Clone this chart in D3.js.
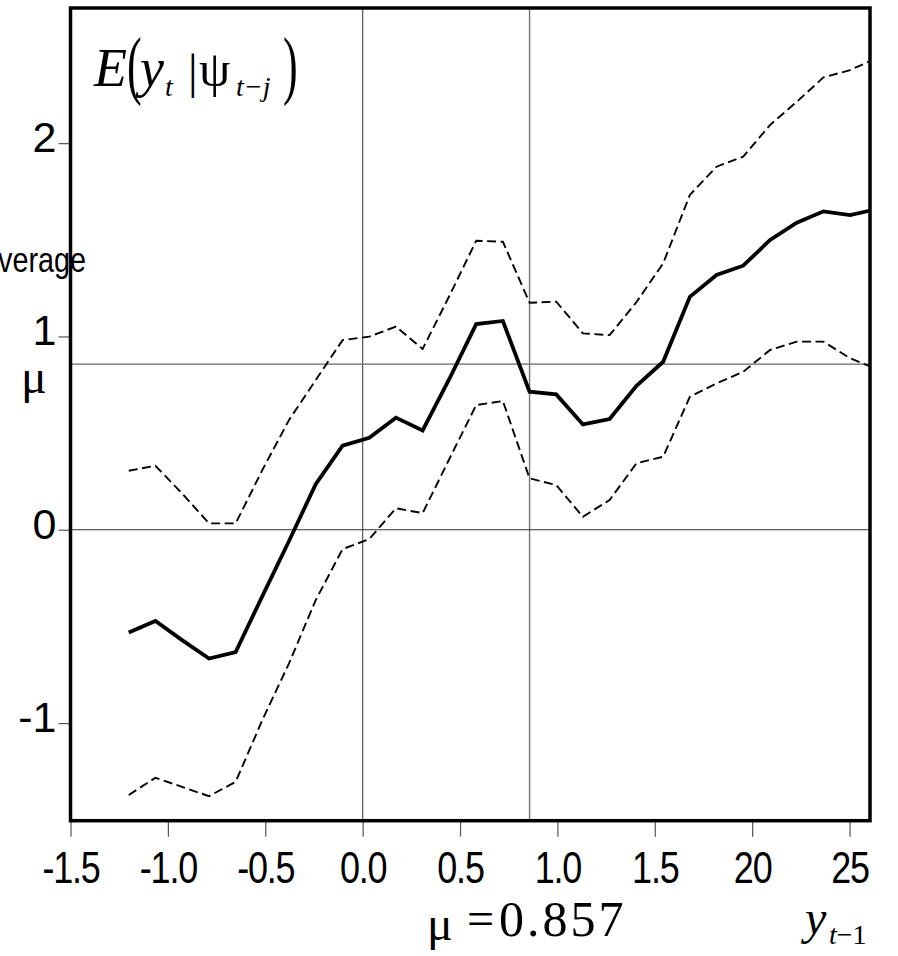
<!DOCTYPE html>
<html>
<head>
<meta charset="utf-8">
<script src="https://cdn.jsdelivr.net/npm/d3@7"></script>
<style>
  html, body { margin: 0; padding: 0; background: #fff; }
  svg { display: block; }
</style>
</head>
<body>
<svg id="chart" width="898" height="956"></svg>
<script>
// ---------------- data ----------------
const xVals = [-1.201, -1.064, -0.927, -0.789, -0.652, -0.515, -0.378, -0.241, -0.103, 0.034,
               0.171, 0.308, 0.445, 0.583, 0.720, 0.857, 0.994, 1.131, 1.268, 1.406,
               1.543, 1.680, 1.817, 1.954, 2.092, 2.229, 2.366, 2.503, 2.640];
const meanVals = [-0.532, -0.472, -0.571, -0.666, -0.633, -0.343, -0.058, 0.236, 0.435, 0.476,
                  0.580, 0.514, 0.780, 1.064, 1.080, 0.714, 0.700, 0.545, 0.573, 0.745,
                  0.869, 1.205, 1.318, 1.366, 1.499, 1.588, 1.647, 1.628, 1.659];
const upperVals = [0.305, 0.331, 0.188, 0.033, 0.033, 0.309, 0.568, 0.774, 0.981, 0.999,
                   1.051, 0.935, 1.209, 1.495, 1.490, 1.174, 1.180, 1.016, 1.007, 1.178,
                   1.378, 1.732, 1.878, 1.930, 2.094, 2.214, 2.340, 2.378, 2.440];
const lowerVals = [-1.372, -1.283, -1.330, -1.378, -1.304, -0.984, -0.691, -0.364, -0.100, -0.048,
                   0.111, 0.086, 0.366, 0.645, 0.666, 0.266, 0.231, 0.067, 0.154, 0.344,
                   0.378, 0.688, 0.757, 0.817, 0.930, 0.973, 0.973, 0.887, 0.831];
const mu = 0.857;
const xTicks = [-1.5, -1.0, -0.5, 0.0, 0.5, 1.0, 1.5, 2.0, 2.5];
const xTickLabels = ["-1.5", "-1.0", "-0.5", "0.0", "0.5", "1.0", "1.5", "20", "25"];
const yTicks = [-1, 0, 1, 2];
const yTickLabels = ["-1", "0", "1", "2"];

// ---------------- layout ----------------
const L = 70.5, R = 870, T = 8, B = 820.7;
const sans = "'Liberation Sans', Arial, Helvetica, sans-serif";
const serif = "'Liberation Serif', 'Times New Roman', Times, serif";

const svg = d3.select("#chart");
const x = d3.scaleLinear().domain([-1.5, 2.605]).range([L, R]);
const y = d3.scaleLinear().domain([-1.505, 2.699]).range([B, T]);

svg.append("defs").append("clipPath").attr("id", "plotclip")
  .append("rect").attr("x", L).attr("y", T).attr("width", R - L).attr("height", B - T);

// reference lines
const refs = svg.append("g");
refs.append("line").attr("x1", x(0)).attr("x2", x(0)).attr("y1", T).attr("y2", B)
  .attr("stroke", "#555").attr("stroke-width", 1.2);
refs.append("line").attr("x1", x(mu)).attr("x2", x(mu)).attr("y1", T).attr("y2", B)
  .attr("stroke", "#777").attr("stroke-width", 1.4);
refs.append("line").attr("x1", L).attr("x2", R).attr("y1", y(0)).attr("y2", y(0))
  .attr("stroke", "#333").attr("stroke-width", 1.2);
refs.append("line").attr("x1", L).attr("x2", R).attr("y1", y(mu)).attr("y2", y(mu))
  .attr("stroke", "#666").attr("stroke-width", 1.3);

// series
const idx = d3.range(xVals.length);
const line = vals => d3.line().x(i => x(xVals[i])).y(i => y(vals[i]))(idx);
const g = svg.append("g").attr("clip-path", "url(#plotclip)");
g.append("path").attr("d", line(upperVals)).attr("fill", "none")
  .attr("stroke", "#000").attr("stroke-width", 1.9).attr("stroke-dasharray", "9,4.5");
g.append("path").attr("d", line(lowerVals)).attr("fill", "none")
  .attr("stroke", "#000").attr("stroke-width", 1.9).attr("stroke-dasharray", "9,4.5");
g.append("path").attr("d", line(meanVals)).attr("fill", "none")
  .attr("stroke", "#000").attr("stroke-width", 3.8).attr("stroke-linejoin", "miter");

// axes
const xAxis = svg.append("g").attr("transform", `translate(0,${B})`)
  .call(d3.axisBottom(x).tickValues(xTicks).tickSize(16)
    .tickFormat((d, i) => xTickLabels[i]));
xAxis.select(".domain").remove();
xAxis.selectAll(".tick line").attr("stroke", "#555").attr("stroke-width", 1.2);
xAxis.selectAll(".tick text")
  .attr("y", 0).attr("dy", 0)
  .attr("transform", "translate(0,62) scale(0.8,1)")
  .attr("font-family", sans).attr("font-size", 45).attr("letter-spacing", -1.5)
  .attr("fill", "#000");

const yAxis = svg.append("g").attr("transform", `translate(${L},0)`)
  .call(d3.axisLeft(y).tickValues(yTicks).tickSize(12)
    .tickFormat((d, i) => yTickLabels[i]));
yAxis.select(".domain").remove();
yAxis.selectAll(".tick line").attr("stroke", "#555").attr("stroke-width", 1.2);
yAxis.selectAll(".tick text")
  .attr("x", -14).attr("dy", 0).attr("y", 8.5)
  .attr("font-family", sans).attr("font-size", 43).attr("fill", "#000");

// frame
svg.append("rect").attr("x", L).attr("y", T).attr("width", R - L).attr("height", B - T)
  .attr("fill", "none").attr("stroke", "#000").attr("stroke-width", 3.5);

// ---------------- texts ----------------
// cut-off "Average" label
svg.append("text").attr("transform", "translate(86,272) scale(0.8,1)")
  .attr("text-anchor", "end").attr("font-family", sans).attr("font-size", 36)
  .text("Average");

// left mu
svg.append("text").attr("x", 21).attr("y", 393).attr("font-family", serif)
  .attr("font-size", 48).text("μ");

// title  E(y_t | ψ_{t-j})
const t = svg.append("g").attr("font-family", serif).attr("fill", "#000");
t.append("text").attr("x", 94).attr("y", 86).attr("font-style", "italic")
  .attr("font-size", 54).text("E");
t.append("text").attr("transform", "translate(127,90) scale(0.58,1)")
  .attr("font-size", 76).text("(");
t.append("text").attr("x", 140).attr("y", 86).attr("font-style", "italic")
  .attr("font-size", 54).text("y");
t.append("text").attr("x", 165).attr("y", 96).attr("font-style", "italic")
  .attr("font-size", 28).text("t");
t.append("text").attr("x", 188).attr("y", 88).attr("font-size", 48).text("|");
t.append("text").attr("x", 199).attr("y", 86).attr("font-size", 50).text("ψ");
t.append("text").attr("x", 236).attr("y", 96).attr("font-style", "italic")
  .attr("font-size", 28).text("t−j");
t.append("text").attr("transform", "translate(283,90) scale(0.58,1)")
  .attr("font-size", 76).text(")");

// bottom  μ = 0.857
const b = svg.append("g").attr("font-family", serif).attr("fill", "#000");
b.append("text").attr("x", 427).attr("y", 940).attr("font-size", 48).text("μ");
b.append("text").attr("x", 467).attr("y", 935).attr("font-size", 48).text("=");
b.append("text").attr("x", 499).attr("y", 936).attr("font-size", 50)
  .attr("letter-spacing", 3).text("0.857");

// y_{t-1}
b.append("text").attr("x", 805).attr("y", 934).attr("font-style", "italic")
  .attr("font-size", 48).text("y");
const sub = b.append("text").attr("x", 829).attr("y", 944).attr("font-size", 28);
sub.append("tspan").attr("font-style", "italic").text("t");
sub.append("tspan").text("−1");
</script>
</body>
</html>
